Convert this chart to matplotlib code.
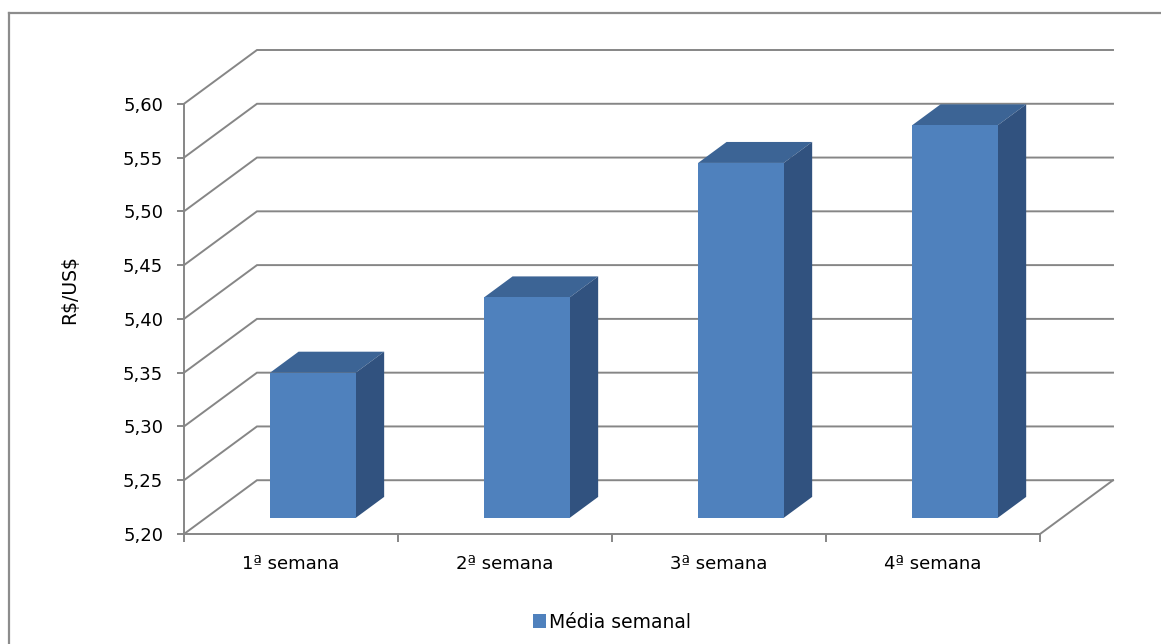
import numpy as np
import matplotlib
matplotlib.use("Agg")
import matplotlib.pyplot as plt
from matplotlib.patches import Polygon, Patch
from matplotlib.lines import Line2D

# ---- data ----
categories = ["1ª semana", "2ª semana", "3ª semana", "4ª semana"]
values = [5.335, 5.405, 5.530, 5.565]
series_name = "Média semanal"
y_ticks = [5.20, 5.25, 5.30, 5.35, 5.40, 5.45, 5.50, 5.55, 5.60]
y_label = "R$/US$"

# ---- style ----
FRONT = "#4F81BD"
TOP = "#3C6495"
SIDE = "#31527F"
GRID = "#868686"
plt.rcParams['font.family'] = ['DejaVu Sans']
FS = 13

W_PX, H_PX = 1161, 644
fig = plt.figure(figsize=(W_PX / 100, H_PX / 100), dpi=100)

# 3D-ish projection parameters (in data units)
DX = 0.341   # depth offset in category units
DY = 0.05    # depth offset in value units
F0, F1 = 0.30, 0.69  # bar depth front/back fractions
BW = 0.40    # bar width
n = len(categories)
ymin, ymax = y_ticks[0], y_ticks[-1]

# axes placed so that front plane spans x 0..n, y ymin..ymax
left_px, right_px = 184, 1113
bottom_px, top_px = 534, 50
ax = fig.add_axes([left_px / W_PX, 1 - bottom_px / H_PX,
                   (right_px - left_px) / W_PX, (bottom_px - top_px) / H_PX])
ax.set_xlim(0, n + DX)
ax.set_ylim(ymin, ymax + DY)
ax.patch.set_visible(False)


def proj(x, y, d):
    return (x + d * DX, y + d * DY)


# gridlines: left wall diagonal + back wall horizontal
for v in y_ticks:
    xs = [0, DX, n + DX]
    ys = [v, v + DY, v + DY]
    ax.plot(xs, ys, color=GRID, lw=1.4, zorder=1, clip_on=False,
            solid_joinstyle='miter')
# floor right edge
ax.plot([n, n + DX], [ymin, ymin + DY], color=GRID, lw=1.4, zorder=1, clip_on=False)

# bars
for i, v in enumerate(values):
    xc = i + 0.5
    xl, xr = xc - BW / 2, xc + BW / 2
    top = Polygon([proj(xl, v, F0), proj(xr, v, F0), proj(xr, v, F1), proj(xl, v, F1)],
                  closed=True, facecolor=TOP, edgecolor='none', zorder=3)
    side = Polygon([proj(xr, ymin, F0), proj(xr, v, F0), proj(xr, v, F1), proj(xr, ymin, F1)],
                   closed=True, facecolor=SIDE, edgecolor='none', zorder=3)
    ax.add_patch(top)
    ax.add_patch(side)
    ax.bar(xc + F0 * DX, v - ymin, bottom=ymin + F0 * DY, width=BW,
           color=FRONT, zorder=4, linewidth=0)

# spines
for s in ["top", "right"]:
    ax.spines[s].set_visible(False)
ax.spines["left"].set_bounds(ymin, ymax)
ax.spines["bottom"].set_bounds(0, n)
for s in ["left", "bottom"]:
    ax.spines[s].set_color(GRID)
    ax.spines[s].set_linewidth(1.4)
    ax.spines[s].set_zorder(2)

ax.set_yticks(y_ticks)
ax.set_yticklabels([f"{t:.2f}".replace(".", ",") for t in y_ticks], fontsize=FS)
ax.tick_params(axis='y', direction='out', length=5, width=1.4, color=GRID, pad=10)

ax.set_xticks(np.arange(0, n + 1))
ax.set_xticklabels([])
ax.tick_params(axis='x', which='major', direction='out', length=6, width=1.4, color=GRID)
ax.set_xticks(np.arange(n) + 0.5, minor=True)
ax.set_xticklabels(categories, minor=True, fontsize=FS)
ax.tick_params(axis='x', which='minor', length=0, pad=15)

# y label
fig.text(70 / W_PX, 1 - 290 / H_PX, y_label, rotation=90, ha='center', va='center',
         fontsize=FS + 0.5, parse_math=False)

# legend
fig.legend(handles=[Patch(facecolor=FRONT, edgecolor='none')], labels=[series_name],
           loc='center', bbox_to_anchor=(612 / W_PX, 1 - 622 / H_PX), frameon=False,
           fontsize=FS + 0.5, handlelength=0.7, handleheight=0.7, handletextpad=0.2,
           borderpad=0, borderaxespad=0)

# outer border (left and top edges visible)
fig.add_artist(Line2D([9 / W_PX, 9 / W_PX], [0, 1 - 13 / H_PX], color="#8C8C8C", lw=1.6,
                      transform=fig.transFigure))
fig.add_artist(Line2D([9 / W_PX, 1.0], [1 - 13 / H_PX, 1 - 13 / H_PX], color="#8C8C8C", lw=1.6,
                      transform=fig.transFigure))

fig.savefig("out.png", dpi=100)
